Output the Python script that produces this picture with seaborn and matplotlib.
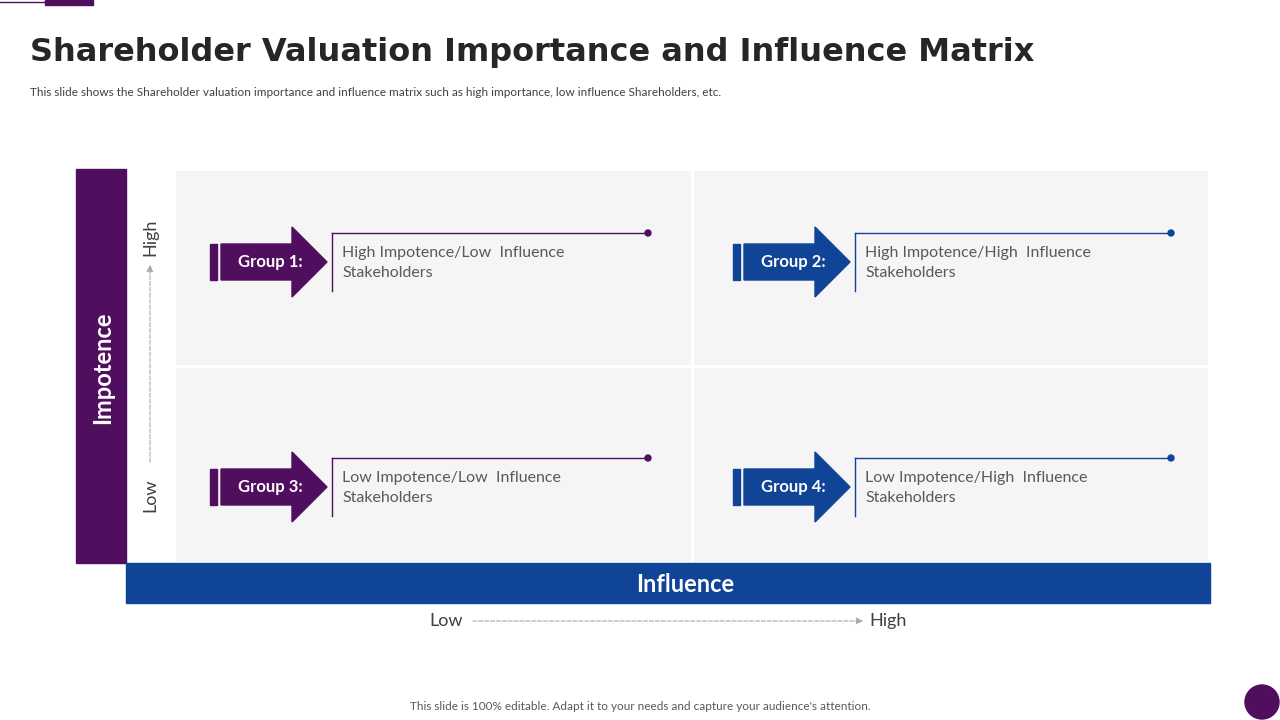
import matplotlib
matplotlib.use("Agg")
import matplotlib.pyplot as plt
import seaborn as sns
import numpy as np
from matplotlib.patches import Rectangle, Polygon, Circle

# quadrant content
groups = ["Group 1:", "Group 2:", "Group 3:", "Group 4:"]
descriptions = ["High Impotence/Low  Influence\nStakeholders",
                "High Impotence/High  Influence\nStakeholders",
                "Low Impotence/Low  Influence\nStakeholders",
                "Low Impotence/High  Influence\nStakeholders"]
group_colors = ["#500f5e", "#0f4496", "#500f5e", "#0f4496"]
quad_values = [[1, 1], [1, 1]]

PURPLE = "#500f5e"
BLUE = "#0f4496"
FONT = "Lato"

fig = plt.figure(figsize=(12.8, 7.2), dpi=100)
ax = fig.add_axes([0, 0, 1, 1])
ax.set_xlim(0, 1280)
ax.set_ylim(720, 0)
ax.axis("off")

# quadrant grid via seaborn heatmap
hax = fig.add_axes([174 / 1280, 1 - 563 / 720, (1209 - 174) / 1280, (563 - 169) / 720])
sns.heatmap(np.array(quad_values), ax=hax, cmap=sns.color_palette(["#f5f5f5"]),
            cbar=False, linewidths=1, linecolor="white", xticklabels=False, yticklabels=False)
hax.set_zorder(0)
ax.set_zorder(1)
ax.patch.set_alpha(0)

# top-left decoration
ax.plot([0, 45], [2, 2], color=PURPLE, lw=1)
ax.add_patch(Rectangle((45, 0), 48, 5, color=PURPLE))

ax.text(30, 52, "Shareholder Valuation Importance and Influence Matrix", fontsize=23,
        fontweight="bold", color="#262626", va="center", family="DejaVu Sans")
ax.text(30, 92, "This slide shows the Shareholder valuation importance and influence matrix such as high importance, low influence Shareholders, etc.",
        fontsize=8.5, color="#404040", va="center", family=FONT)

# axis bars
ax.add_patch(Rectangle((76, 169), 50, 394, color=PURPLE))
ax.text(103, 368, "Impotence", rotation=90, color="white", fontsize=17, fontweight="bold",
        ha="center", va="center", family=FONT)
ax.add_patch(Rectangle((126, 563), 1084, 40, color=BLUE))
ax.text(685, 584, "Influence", color="white", fontsize=17, fontweight="bold",
        ha="center", va="center", family=FONT)

# axis low/high labels
ax.text(150, 237, "High", rotation=90, fontsize=13, color="#404040", ha="center", va="center", family=FONT)
ax.text(150, 495, "Low", rotation=90, fontsize=13, color="#404040", ha="center", va="center", family=FONT)
ax.annotate("", xy=(150, 262), xytext=(150, 465),
            arrowprops=dict(arrowstyle="-|>", color="#aaaaaa", ls="--", lw=0.8))
ax.text(446, 621, "Low", fontsize=13, color="#404040", ha="center", va="center", family=FONT)
ax.text(888, 621, "High", fontsize=13, color="#404040", ha="center", va="center", family=FONT)
ax.annotate("", xy=(866, 621), xytext=(470, 621),
            arrowprops=dict(arrowstyle="-|>", color="#aaaaaa", ls="--", lw=0.8))

# group arrows and descriptions
for i, (g, d, c) in enumerate(zip(groups, descriptions, group_colors)):
    ox = 0 if i % 2 == 0 else 523
    cy = 262 if i < 2 else 487
    ax.add_patch(Rectangle((210 + ox, cy - 18), 7, 36, color=c))
    ax.add_patch(Polygon([(221 + ox, cy - 18), (292 + ox, cy - 18), (292 + ox, cy - 35),
                          (327 + ox, cy), (292 + ox, cy + 35), (292 + ox, cy + 18),
                          (221 + ox, cy + 18)], color=c))
    ax.text(270 + ox, cy, g, color="white", fontsize=12, fontweight="bold",
            ha="center", va="center", family=FONT)
    ax.plot([332 + ox, 332 + ox], [cy - 29, cy + 29], color=c, lw=1)
    ax.plot([332 + ox, 648 + ox], [cy - 29, cy - 29], color=c, lw=1)
    ax.add_patch(Circle((648 + ox, cy - 29), 3, color=c))
    ax.text(342 + ox, cy + 1, d, fontsize=11.5, color="#595959", va="center",
            linespacing=1.5, family=FONT)

ax.text(640, 707, "This slide is 100% editable. Adapt it to your needs and capture your audience's attention.",
        fontsize=8.5, color="#595959", ha="center", va="center", family=FONT)
ax.add_patch(Circle((1262, 702), 17, color=PURPLE))

fig.savefig("out.png", dpi=100)
